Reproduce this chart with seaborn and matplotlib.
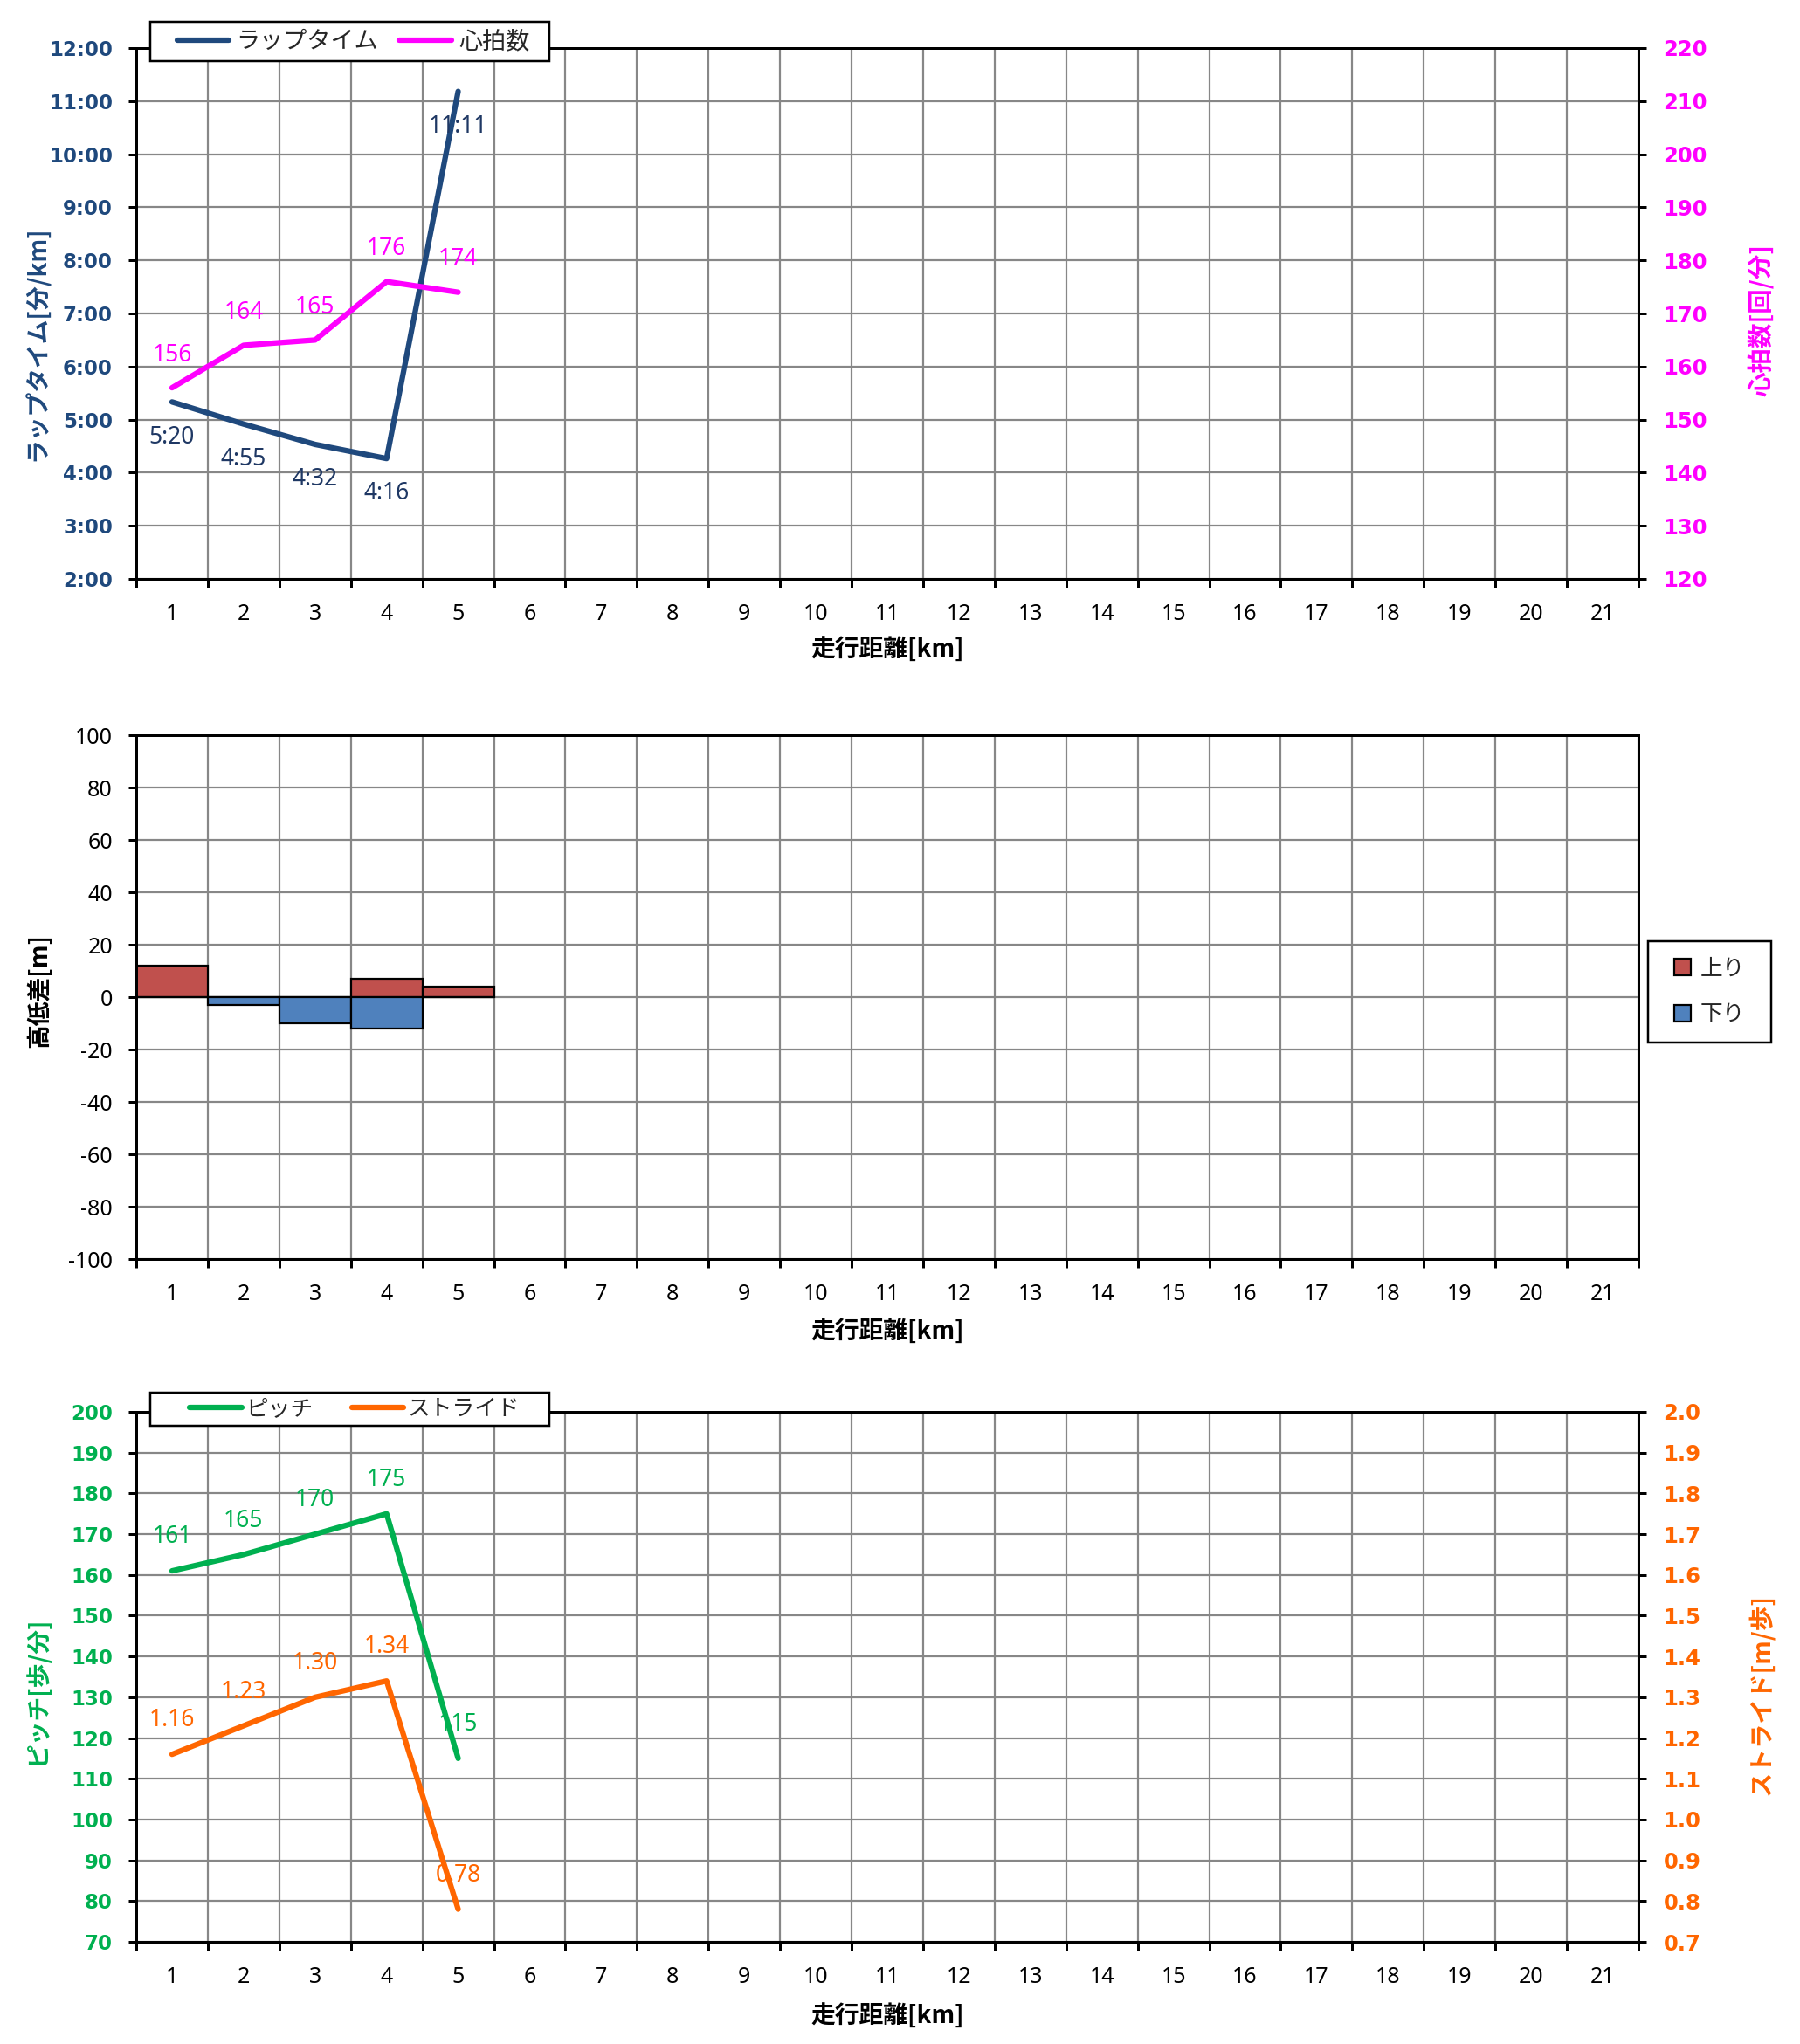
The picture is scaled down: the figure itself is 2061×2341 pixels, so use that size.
import numpy as np
import pandas as pd
import matplotlib
matplotlib.use("Agg")
import matplotlib.pyplot as plt
import seaborn as sns
from matplotlib.ticker import FixedLocator, FixedFormatter, MultipleLocator, FuncFormatter, NullFormatter
from matplotlib.patches import Rectangle

# ---------------- data ----------------
km_all = list(range(1, 22))
km = [1, 2, 3, 4, 5]
lap_times = ["5:20", "4:55", "4:32", "4:16", "11:11"]
heart_rate = [156, 164, 165, 176, 174]
elev_up = [12, 0, 0, 7, 4]
elev_down = [0, -3, -10, -12, 0]
pitch = [161, 165, 170, 175, 115]
stride = [1.16, 1.23, 1.30, 1.34, 0.78]

# ---------------- style ----------------
sns.set_theme(style="white")
JP = ['Noto Sans CJK JP', 'DejaVu Sans']
plt.rcParams['font.family'] = JP
plt.rcParams['axes.unicode_minus'] = False

LAP = '#1F497D'
LAP_LBL = '#1F3864'
HR = '#FF00FF'
PITCH = '#00B050'
STRIDE = '#FF6600'
UP = '#C0504D'
DOWN = '#4F81BD'
GRID = '#878787'
LW = 4.5

W, H = 2061, 2341
DPI = 100
PT = 72 / DPI
fig = plt.figure(figsize=(W / DPI, H / DPI), dpi=DPI)
fig.patch.set_facecolor('white')


def px_axes(left, right, top, bottom):
    return fig.add_axes([left / W, 1 - bottom / H, (right - left) / W, (bottom - top) / H])


L, R = 156, 1876
ax1 = px_axes(L, R, 55, 663)
ax2 = px_axes(L, R, 842, 1442)
ax3 = px_axes(L, R, 1617, 2224)


def style_common(ax):
    ax.set_xlim(0.5, 21.5)
    ax.xaxis.set_major_locator(FixedLocator(np.arange(0.5, 22, 1)))
    ax.xaxis.set_major_formatter(NullFormatter())
    ax.xaxis.set_minor_locator(FixedLocator(km_all))
    ax.xaxis.set_minor_formatter(FixedFormatter([str(k) for k in km_all]))
    ax.tick_params(axis='x', which='major', direction='out', length=10 * PT, width=3 * PT,
                   color='black', bottom=True, top=False)
    ax.tick_params(axis='x', which='minor', length=0, pad=20, labelsize=18, labelcolor='black',
                   bottom=True, top=False, labelfontfamily='Noto Sans')
    ax.tick_params(axis='y', which='major', direction='out', length=9 * PT, width=3 * PT,
                   color='black', left=True, right=False)
    for sp in ax.spines.values():
        sp.set_visible(True)
        sp.set_color('black')
        sp.set_linewidth(3 * PT)
    ax.grid(True, which='major', axis='both', color=GRID, lw=2.2 * PT)
    ax.set_axisbelow(True)
    ax.set_xlabel('')
    ax.set_ylabel('')
    ax.set_facecolor('white')


def style_right(axr, color, size):
    axr.tick_params(axis='y', which='major', direction='out', length=9 * PT, width=3 * PT,
                    color='black', right=True, left=False, labelright=True, labelleft=False,
                    pad=14, labelsize=size, labelcolor=color, labelfontfamily='DejaVu Sans')
    for sp in axr.spines.values():
        sp.set_visible(True)
        sp.set_color('black')
        sp.set_linewidth(3 * PT)
    axr.set_xlabel('')
    axr.set_ylabel('')
    plt.setp(axr.get_yticklabels(), fontweight='bold')


def framed_legend(handles, labels, box, fontsize=18, **kw):
    l, t, r, b = box
    fig.add_artist(Rectangle((l / W, 1 - b / H), (r - l) / W, (b - t) / H,
                             transform=fig.transFigure, facecolor='white',
                             edgecolor='black', lw=2.5 * PT, zorder=4))
    cx, cy = (l + r) / 2 + kw.pop('dx', 0), (t + b) / 2
    return fig.legend(handles, labels, loc='center', bbox_to_anchor=(cx / W, 1 - cy / H),
                      frameon=False, fontsize=fontsize, borderpad=0, borderaxespad=0, **kw)


def mmss(v, pos=None):
    m = int(v)
    s = int(round((v - m) * 60))
    return f"{m}:{s:02d}"


# ---------------- panel 1 : lap time & heart rate ----------------
lap_min = [int(s.split(':')[0]) + int(s.split(':')[1]) / 60 for s in lap_times]
df1 = pd.DataFrame({'km': km, 'lap': lap_min, 'hr': heart_rate})

sns.lineplot(data=df1, x='km', y='lap', ax=ax1, color=LAP, lw=LW, legend=False,
             solid_capstyle='round')
ax1r = ax1.twinx()
sns.lineplot(data=df1, x='km', y='hr', ax=ax1r, color=HR, lw=LW, legend=False,
             solid_capstyle='round')

style_common(ax1)
ax1.set_ylim(2, 12)
ax1.yaxis.set_major_locator(MultipleLocator(1))
ax1.yaxis.set_major_formatter(FuncFormatter(mmss))
ax1.tick_params(axis='y', pad=13, labelsize=16.5, labelcolor=LAP, labelfontfamily='DejaVu Sans')
plt.setp(ax1.get_yticklabels(), fontweight='bold')

ax1r.set_ylim(120, 220)
ax1r.yaxis.set_major_locator(MultipleLocator(10))
style_right(ax1r, HR, 17.5)

for x, y, s in zip(km, lap_min, lap_times):
    ax1.annotate(s, (x, y), xytext=(0, -29), textcoords='offset points', ha='center',
                 va='center', color=LAP_LBL, fontsize=19, family='Noto Sans')
for x, y in zip(km, heart_rate):
    ax1r.annotate(str(y), (x, y), xytext=(0, 27), textcoords='offset points', ha='center',
                  va='center', color=HR, fontsize=19, family='Noto Sans')

framed_legend([ax1.get_lines()[0], ax1r.get_lines()[0]], ['ラップタイム', '心拍数'],
              (172, 25, 629, 70), fontsize=19.5, dx=4, ncol=2, handlelength=2.2,
              handletextpad=0.3, columnspacing=0.9)

fig.text(42 / W, 1 - 393 / H, 'ラップタイム[分/km]', rotation=90, ha='center', va='center',
         fontsize=20, fontweight='bold', color=LAP)
fig.text(2016 / W, 1 - 366 / H, '心拍数[回/分]', rotation=90, ha='center', va='center',
         fontsize=20.5, fontweight='bold', color=HR)
fig.text(1016 / W, 1 - 744 / H, '走行距離[km]', ha='center', va='center',
         fontsize=20, fontweight='bold', color='black')

# ---------------- panel 2 : elevation ----------------
df2 = pd.DataFrame({'km': km, 'up': elev_up, 'down': elev_down})
sns.barplot(data=df2, x='km', y='up', native_scale=True, width=1, color=UP, saturation=1,
            edgecolor='black', linewidth=2.2 * PT, errorbar=None, ax=ax2, label='上り')
sns.barplot(data=df2, x='km', y='down', native_scale=True, width=1, color=DOWN, saturation=1,
            edgecolor='black', linewidth=2.2 * PT, errorbar=None, ax=ax2, label='下り')
h2, l2 = ax2.get_legend_handles_labels()
if ax2.get_legend() is not None:
    ax2.get_legend().remove()

style_common(ax2)
ax2.set_ylim(-100, 100)
ax2.yaxis.set_major_locator(MultipleLocator(20))
ax2.tick_params(axis='y', pad=13, labelsize=18, labelcolor='black', labelfontfamily='Noto Sans')

framed_legend(h2, l2, (1887, 1078, 2028, 1194), fontsize=18.5, ncol=1, handlelength=0.75,
              handleheight=0.75, handletextpad=0.4, labelspacing=1.05)

fig.text(45 / W, 1 - 1134 / H, '高低差[m]', rotation=90, ha='center', va='center',
         fontsize=20, fontweight='bold', color='black')
fig.text(1016 / W, 1 - 1525 / H, '走行距離[km]', ha='center', va='center',
         fontsize=20, fontweight='bold', color='black')

# ---------------- panel 3 : pitch & stride ----------------
df3 = pd.DataFrame({'km': km, 'pitch': pitch, 'stride': stride})
sns.lineplot(data=df3, x='km', y='pitch', ax=ax3, color=PITCH, lw=LW, legend=False,
             solid_capstyle='round')
ax3r = ax3.twinx()
sns.lineplot(data=df3, x='km', y='stride', ax=ax3r, color=STRIDE, lw=LW, legend=False,
             solid_capstyle='round')

style_common(ax3)
ax3.set_ylim(70, 200)
ax3.yaxis.set_major_locator(MultipleLocator(10))
ax3.tick_params(axis='y', pad=13, labelsize=16.5, labelcolor=PITCH, labelfontfamily='DejaVu Sans')
plt.setp(ax3.get_yticklabels(), fontweight='bold')

ax3r.set_ylim(0.7, 2.0)
ax3r.yaxis.set_major_locator(MultipleLocator(0.1))
ax3r.yaxis.set_major_formatter(FuncFormatter(lambda v, p: f"{v:.1f}"))
style_right(ax3r, STRIDE, 17.5)

for x, y in zip(km, pitch):
    ax3.annotate(str(y), (x, y), xytext=(0, 28), textcoords='offset points', ha='center',
                 va='center', color=PITCH, fontsize=19, family='Noto Sans')
for x, y in zip(km, stride):
    ax3r.annotate(f"{y:.2f}", (x, y), xytext=(0, 28), textcoords='offset points', ha='center',
                  va='center', color=STRIDE, fontsize=19, family='Noto Sans')

framed_legend([ax3.get_lines()[0], ax3r.get_lines()[0]], ['ピッチ', 'ストライド'],
              (172, 1595, 629, 1633), fontsize=18.5, dx=6, ncol=2, handlelength=2.3,
              handletextpad=0.2, columnspacing=1.7)

fig.text(42 / W, 1 - 1936 / H, 'ピッチ[歩/分]', rotation=90, ha='center', va='center',
         fontsize=20, fontweight='bold', color=PITCH)
fig.text(2016 / W, 1 - 1941 / H, 'ストライド[m/歩]', rotation=90, ha='center', va='center',
         fontsize=20.5, fontweight='bold', color=STRIDE)
fig.text(1016 / W, 1 - 2309 / H, '走行距離[km]', ha='center', va='center',
         fontsize=20, fontweight='bold', color='black')

fig.savefig('out.png', dpi=DPI, facecolor='white')
